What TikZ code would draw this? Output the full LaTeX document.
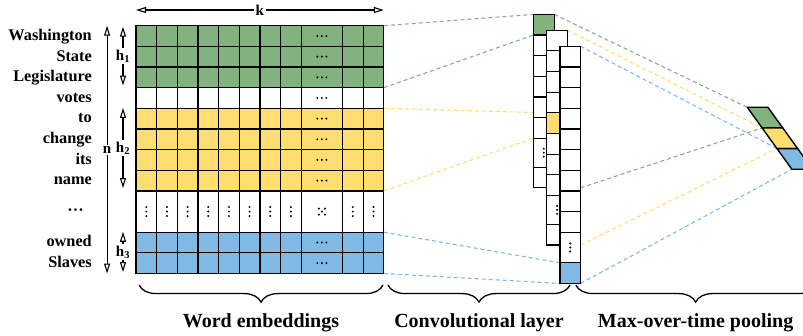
\documentclass[tikz,border=0pt]{standalone}
\usepackage{fontspec}
\setmainfont{Liberation Serif}
\usetikzlibrary{positioning, arrows.meta, decorations.pathreplacing, backgrounds}

\definecolor{wgreen}{RGB}{130,178,126}
\definecolor{wyellow}{RGB}{255,221,112}
\definecolor{wblue}{RGB}{128,185,228}
\newcommand{\cellsz}{20.65pt}

\tikzstyle{cell} = [rectangle, draw=black, line width=1.2pt, inner sep=0pt, outer sep=0pt, anchor=north west]
\tikzstyle{word} = [anchor=base east, inner sep=0pt, font=\fontsize{16.3}{18}\selectfont\bfseries]
\tikzstyle{dim} = [line width=1.1pt, >={Triangle[open, length=10pt, width=6pt]}, <->]
\tikzstyle{dimlabel} = [fill=white, inner sep=1.5pt, font=\fontsize{15}{17}\selectfont\bfseries]
\tikzstyle{link} = [line width=1.1pt, dash pattern=on 4pt off 3pt]
\tikzstyle{brace} = [decorate, decoration={brace, mirror, amplitude=17pt}, line width=1.3pt]
\tikzstyle{caption} = [font=\fontsize{20}{24}\selectfont\bfseries]
\tikzstyle{pool} = [draw=black, line width=1.4pt, line join=round]

\begin{document}
\begin{tikzpicture}[x=\cellsz, y=-\cellsz]

\clip (-6.586,-1.245) rectangle (32.30,14.978);

%Word embeddings
\foreach \row/\y/\h/\clr in {1/0/1/wgreen, 2/1/1/wgreen, 3/2/1/wgreen, 4/3/1/white, 5/4/1/wyellow, 6/5/1/wyellow, 7/6/1/wyellow, 8/7/1/wyellow, 9/8/2/white, 10/10/1/wblue, 11/11/1/wblue}
  \foreach \colm/\x/\w in {1/0/1, 2/1/1, 3/2/1, 4/3/1, 5/4/1, 6/5/1, 7/6/1, 8/7/1, 9/8/2, 10/10/1, 11/11/1}
    \node[cell, fill=\clr, minimum width=\w*\cellsz, minimum height=\h*\cellsz] (w-\row-\colm) at (\x,\y) {};

\foreach \row in {1,...,8,10,11}
  \foreach \kk in {-1,0,1}
    \fill (w-\row-9.center) ++(\kk*4.5pt,0) circle (1.1pt);
\foreach \colm in {1,...,8,10,11}
  \foreach \kk in {-1,0,1}
    \fill (w-9-\colm.center) ++(0,\kk*4.5pt) circle (1.1pt);
\foreach \dx/\dy in {-3/-3, 3/-3, 0/0, -3/3, 3/3}
  \fill (w-9-9.center) ++(\dx pt,\dy pt) circle (1.1pt);

%Words
\foreach \m/\y/\t in {1/0.5/Washington, 2/1.5/State, 3/2.5/Legislature, 4/3.5/votes, 5/4.5/to, 6/5.5/change, 7/6.5/its, 8/7.5/name, 10/10.5/owned, 11/11.5/Slaves}
  \node[word] (t-\m) at (-2.13,\y+0.21) {\t};
\node[word] (t-9) at (-2.52,9.21) {···};

%Convolutional layer
\foreach \m/\y/\h/\clr in {1/-0.55/1/wgreen, 2/0.45/1/white, 3/1.45/1/white, 4/2.45/1/white, 5/3.45/1/white, 6/4.45/1/white, 7/5.45/1.4/white, 8/6.85/1/white}
  \node[cell, fill=\clr, minimum width=\cellsz, minimum height=\h*\cellsz] (c1-\m) at (19.25,\y) {};
\foreach \m/\y/\h/\clr in {1/0.22/1/white, 2/1.22/1/white, 3/2.22/1/white, 4/3.22/1/white, 5/4.22/1/wyellow, 6/5.22/1/white, 7/6.22/1/white, 8/7.22/1/white, 9/8.22/1.4/white, 10/9.62/1/white}
  \node[cell, fill=\clr, minimum width=\cellsz, minimum height=\h*\cellsz] (c2-\m) at (19.89,\y) {};
\foreach \m/\y/\h/\clr in {1/1/1/white, 2/2/1/white, 3/3/1/white, 4/4/1/white, 5/5/1/white, 6/6/1/white, 7/7/1/white, 8/8/1/white, 9/9/1/white, 10/10/1.48/white, 11/11.48/1/wblue}
  \node[cell, fill=\clr, minimum width=\cellsz, minimum height=\h*\cellsz] (c3-\m) at (20.53,\y) {};

\foreach \kk in {-1,0,1} {
  \fill (c1-7.center) ++(0,\kk*4pt) circle (1.1pt);
  \fill (c2-9.center) ++(0,\kk*4pt) circle (1.1pt);
  \fill (c3-10.center) ++(0,\kk*4pt) circle (1.1pt);
}

%Max-over-time pooling
\coordinate (pool-1) at (29.6,3.95);
\coordinate (pool-2) at (30.32,4.95);
\coordinate (pool-3) at (31.04,5.95);
\coordinate (pool-4) at (31.76,6.95);
\filldraw[pool, fill=wgreen] (pool-1) -- ++(1,0) -- ++(0.72,1) -- (pool-2) -- cycle;
\filldraw[pool, fill=wyellow] (pool-2) -- ++(1,0) -- ++(0.72,1) -- (pool-3) -- cycle;
\filldraw[pool, fill=wblue] (pool-3) -- ++(1,0) -- ++(0.72,1) -- (pool-4) -- cycle;

%Links
\begin{pgfonlayer}{background}
\draw[link, wgreen] (w-1-11.north east) -- (c1-1.north west);
\draw[link, wgreen] (w-3-11.south east) -- (c1-1.south west);
\draw[link, wyellow] (w-5-11.north east) -- (c2-5.north west);
\draw[link, wyellow] (w-8-11.south east) -- (c2-5.south west);
\draw[link, wblue] (w-10-11.north east) -- (c3-11.north west);
\draw[link, wblue] (w-11-11.south east) -- (c3-11.south west);
\draw[link, wgreen] (c1-1.north east) -- (pool-1);
\draw[link, wgreen] (c3-1.east |- c1-8.south) -- (pool-2);
\draw[link, wyellow] (c2-1.north east) -- (pool-2);
\draw[link, wyellow] (c3-1.east |- c2-10.south) -- (pool-3);
\draw[link, wblue] (c3-1.north east) -- (pool-3);
\draw[link, wblue] (c3-11.south east) -- (pool-4);
\end{pgfonlayer}

%Arrows
\coordinate (k-l) at (0,-0.76);
\coordinate (k-r) at (12,-0.76);
\coordinate (n-t) at (-1.4,0);
\coordinate (n-b) at (-1.4,12);
\coordinate (h1-t) at (-0.63,0.05);
\coordinate (h1-b) at (-0.63,2.9);
\coordinate (h2-t) at (-0.63,3.98);
\coordinate (h2-b) at (-0.63,7.86);
\coordinate (h3-t) at (-0.63,9.98);
\coordinate (h3-b) at (-0.63,11.93);
\draw[dim] (k-l) -- node[dimlabel] (k) {k} (k-r);
\draw[dim] (n-t) -- node[dimlabel] (n) {n} (n-b);
\draw[dim] (h1-t) -- node[dimlabel] (h1) {h\textsubscript{1}} (h1-b);
\draw[dim] (h2-t) -- node[dimlabel] (h2) {h\textsubscript{2}} (h2-b);
\draw[dim] (h3-t) -- node[dimlabel] (h3) {h\textsubscript{3}} (h3-b);

%Braces
\coordinate (b1-l) at (0.15,12.56);
\coordinate (b1-r) at (11.96,12.56);
\coordinate (b2-l) at (12.2,12.56);
\coordinate (b2-r) at (21.02,12.56);
\coordinate (b3-l) at (21.3,12.56);
\coordinate (b3-r) at (32.9,12.56);
\draw[brace] (b1-l) -- node[caption, below=25pt] (cap1) {Word embeddings} (b1-r);
\draw[brace] (b2-l) -- node[caption, below=25pt] (cap2) {Convolutional layer} (b2-r);
\draw[brace] (b3-l) -- node[caption, below=25pt] (cap3) {Max-over-time pooling} (b3-r);

\end{tikzpicture}
\end{document}
